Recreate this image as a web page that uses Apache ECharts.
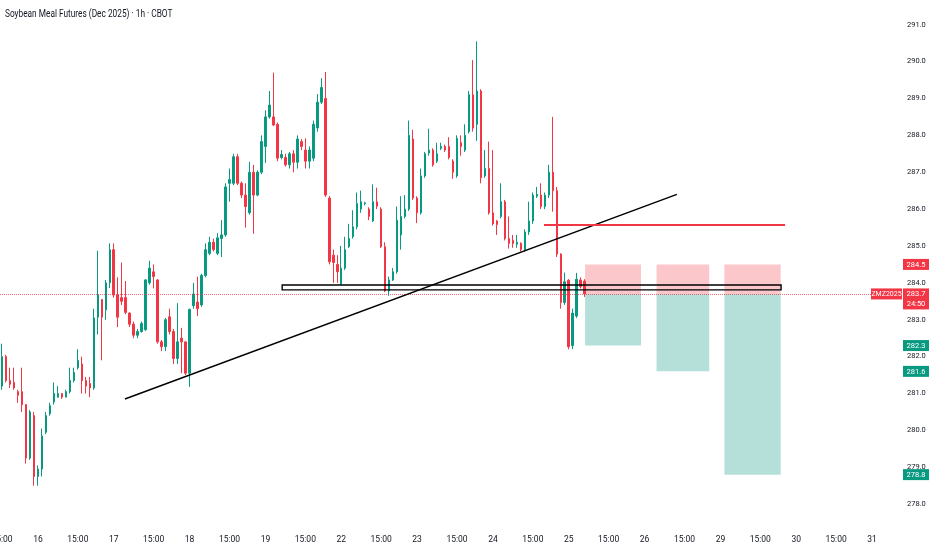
<!DOCTYPE html>
<html><head><meta charset="utf-8">
<script src="https://cdn.jsdelivr.net/npm/echarts@6/dist/echarts.min.js"></script>
<style>html,body{margin:0;padding:0;background:#fff}#c{width:932px;height:550px}</style>
</head><body><div id="c"></div>
<script>
// ---------- DATA ----------
const titleText = 'Soybean Meal Futures (Dec 2025) · 1h · CBOT';
const dayLabels = ['15','16','17','18','19','22','23','24','25','26','29','30','31'];
const barsPerDay = 19;
const firstBarOffset = 10;   // first visible bar is the 10th hour-slot of day 15
const midDayLabel = '15:00';
const midDayOffset = 10;
const totalSlots = 226;

// [open, close, low, high]
const day15 = [
 [281.2,282.0,281.1,282.35],[282.0,281.35,281.3,282.05],[281.35,281.25,281.15,281.7],
 [281.3,281.15,281.1,281.7],[281.05,280.95,280.75,281.1],[281.05,280.7,280.5,281.7],
 [280.7,279.25,279.1,280.7],[279.25,280.5,279.2,280.55],[280.4,278.75,278.5,280.5]
];
const day16 = [
 [278.75,278.95,278.5,279.05],[278.95,279.85,278.75,280.05],[279.95,280.4,279.9,280.5],
 [280.45,280.67,280.4,280.75],[280.77,281.0,280.7,281.3],[280.9,281.0,280.9,281.2],
 [281.0,280.9,280.85,281.0],[280.9,281.05,280.9,281.1],[281.05,281.35,281.0,281.7],
 [281.35,281.57,281.3,281.7],[281.7,281.9,281.65,282.2],[281.8,281.35,281.0,282.0],
 [281.35,281.2,281.0,281.45],[281.27,281.15,280.9,281.45],[281.15,283.05,281.1,283.3],
 [283.07,283.67,282.6,284.87],[283.55,283.07,281.9,283.55],[283.27,284.0,283.0,284.08],
 [284.0,284.9,283.86,285.07]
];
const day17 = [
 [284.9,283.67,283.6,285.07],[283.67,283.07,282.8,284.15],[283.6,283.5,283.4,284.55],
 [283.6,283.2,283.15,284.05],[283.18,282.88,282.8,283.2],[282.88,282.58,282.5,282.95],
 [282.58,282.68,282.5,282.75],[282.68,282.9,282.65,282.95],[282.73,284.08,282.7,284.1],
 [284.0,284.4,283.95,284.6],[284.3,284.17,283.85,284.5],[284.08,282.4,282.35,284.1],
 [282.4,282.27,282.15,282.45],[282.27,283.0,282.15,283.05],[283.08,282.68,282.6,283.3],
 [282.68,281.95,281.8,282.75],[281.95,282.4,281.8,283.45],[282.5,282.4,281.55,282.78],
 [282.4,281.55,281.5,282.4]
];
const day18 = [
 [281.55,283.28,281.18,283.3],[283.38,283.7,283.3,284.0],[283.48,283.3,283.1,284.17],
 [283.4,284.2,283.35,284.25],[284.2,284.9,284.15,285.07],[284.8,285.1,284.75,285.25],
 [285.1,284.9,284.85,285.2],[284.8,285.22,284.75,285.35],[285.2,285.3,284.7,285.7],
 [285.3,286.6,285.25,286.7],[286.7,286.8,286.2,287.1],[286.7,287.42,286.65,287.5],
 [287.42,286.7,286.65,287.5],[286.7,286.38,286.3,286.75],[286.38,286.07,285.5,286.7],
 [285.9,287.0,285.85,287.28],[287.0,286.38,285.33,287.2],[286.38,287.0,286.35,287.05],
 [287.0,287.83,286.95,288.0]
];
const day19 = [
 [287.7,288.5,287.25,288.68],[288.5,288.82,288.45,289.2],[288.5,288.28,288.25,289.7],
 [288.3,287.38,287.3,288.35],[287.4,287.48,287.35,287.6],[287.4,287.2,287.15,287.5],
 [287.2,287.5,287.1,287.55],[287.5,287.27,287.0,287.6],[287.27,287.9,287.1,288.0],
 [287.83,287.7,287.6,287.9],[287.6,287.3,287.1,287.92],[287.3,287.6,287.1,287.7],
 [287.38,288.3,287.3,288.4],[288.2,288.9,288.1,289.12],[288.9,289.3,288.85,289.55],
 [289.0,286.38,286.33,289.72],[286.3,284.57,284.5,286.35],[284.75,284.55,284.0,284.9],
 [284.5,284.3,284.0,284.75]
];
const day22 = [
 [283.97,284.4,283.95,285.0],[284.4,284.9,284.35,285.25],[284.98,285.2,284.95,285.6],
 [285.25,285.52,285.2,285.97],[285.52,286.15,285.45,286.45],[286.0,286.2,285.9,286.5],
 [286.15,286.17,286.1,286.2],[286.0,285.8,285.7,286.05],[285.68,286.2,285.65,286.67],
 [286.2,286.08,286.0,286.58],[286.0,284.98,284.95,286.05],[284.98,283.78,283.75,285.1],
 [283.78,284.08,283.65,284.17],[284.08,284.3,284.05,284.4],[284.3,285.7,284.25,286.07],
 [285.3,285.8,284.9,286.35],[285.8,286.0,285.75,286.38],[286.0,288.0,285.95,288.4],
 [287.9,286.3,286.25,288.15]
];
const day23 = [
 [286.3,285.9,285.62,286.35],[285.9,286.9,285.85,287.1],[286.9,287.5,286.85,287.55],
 [287.52,287.6,287.45,288.18],[287.6,287.2,287.15,287.65],[287.3,287.5,287.25,287.8],
 [287.65,287.7,287.6,287.8],[287.7,287.6,287.55,287.75],[287.7,287.4,287.35,287.95],
 [287.3,287.0,286.82,287.35],[286.9,287.92,286.85,288.0],[287.8,287.7,287.45,288.0],
 [287.6,288.0,287.55,288.3],[288.1,289.1,288.05,289.2],[289.1,288.2,288.1,290.04],
 [288.3,289.2,287.85,290.55],[289.2,286.85,286.7,289.25],[286.9,287.1,286.85,287.6],
 [287.1,285.9,285.85,287.83]
];
const day24 = [
 [285.9,285.6,285.55,287.6],[285.68,285.58,285.3,285.7],[285.8,286.2,285.75,286.7],
 [286.2,285.2,285.15,286.25],[285.2,285.07,284.93,285.8],[285.15,285.07,284.95,285.3],
 [285.05,285.1,284.95,285.3],[285.07,284.9,284.85,285.1],[284.9,285.38,284.85,285.45],
 [285.38,285.68,285.3,286.2],[285.68,286.38,285.6,286.45],[286.35,286.4,286.3,286.6],
 [286.38,286.07,286.0,286.7],[286.07,286.38,286.0,286.45],[286.38,287.0,286.3,287.2],
 [287.0,286.5,285.93,288.5],[286.5,284.78,284.7,286.6],[284.78,283.47,283.3,284.8],
 [283.47,284.03,283.4,284.28]
];
const day25 = [
 [284.07,282.27,282.2,284.1],[282.3,283.18,282.2,283.3],[283.1,284.1,283.05,284.27],
 [284.08,283.9,283.85,284.15],[284.05,283.7,283.62,284.1]
];

// drawings (x in bar slots, y in price)
const trendLine = [[31.3, 280.85], [169.6, 286.40]];
const resistanceLine = [[136.3, 285.57], [196.7, 285.57]];
const zoneRect = [70.7, 195.7, 283.94, 283.81];
// [from, to, stop, entry, target]
const positions = [
 [146.6, 160.6, 284.5, 283.7, 282.3],
 [164.5, 177.7, 284.5, 283.7, 281.6],
 [181.5, 195.6, 284.5, 283.7, 278.8]
];
const priceMin = 277.38, priceMax = 291.67;
const symbolName = 'ZMZ2025';
const countdown = '24:50';

// ---------- BUILD ----------
const UP = '#089981', DOWN = '#f23645';
const candles = [].concat(day15, day16, day17, day18, day19, day22, day23, day24, day25);
const lastPrice = candles[candles.length - 1][1];
const categories = [], tickLabels = [];
for (let i = 0; i < totalSlots; i++) {
  const k = i + firstBarOffset;
  const d = dayLabels[Math.floor(k / barsPerDay)];
  const o = k % barsPerDay;
  categories.push('s' + i);
  tickLabels.push(o === 0 ? d : (o === midDayOffset ? midDayLabel : ''));
}
const FONT = "Roboto, 'Liberation Sans', sans-serif";
const TXT = '#131722';

const chart = echarts.init(document.getElementById('c'), null, {renderer: 'canvas'});
chart.setOption({
  animation: false,
  backgroundColor: '#ffffff',
  grid: {left: 0, right: 30, top: 0, bottom: 23, containLabel: false, outerBoundsMode: 'none'},
  xAxis: [
    {type: 'category', data: categories, boundaryGap: true,
     axisLine: {show: false}, axisTick: {show: false}, splitLine: {show: false},
     axisLabel: {interval: 0, margin: 8, color: TXT, fontSize: 8.5, fontFamily: FONT,
       formatter: (v, idx) => tickLabels[idx]}},
    {type: 'value', min: 0, max: totalSlots, show: false}
  ],
  yAxis: [{
    type: 'value', position: 'right', min: priceMin, max: priceMax,
    minInterval: 1, maxInterval: 1, scale: true,
    axisLine: {show: false}, axisTick: {show: false}, splitLine: {show: false},
    axisLabel: {margin: 5, color: TXT, fontSize: 7.5, fontFamily: FONT,
      showMinLabel: false, showMaxLabel: false,
      formatter: v => (Math.abs(v - Math.round(v)) < 1e-6 ? v.toFixed(1) : '')}
  }],
  series: [
    {
      type: 'custom', xAxisIndex: 1, yAxisIndex: 0, z: 1, silent: true,
      data: positions,
      encode: {x: [0, 1], y: [2, 3, 4]},
      renderItem: function (params, api) {
        const x0 = api.value(0), x1 = api.value(1);
        const pStop = api.coord([x0, api.value(2)]);
        const pEntry = api.coord([x1, api.value(3)]);
        const pTarget = api.coord([x1, api.value(4)]);
        return {type: 'group', children: [
          {type: 'rect', shape: {x: pStop[0], y: pStop[1], width: pEntry[0] - pStop[0], height: pEntry[1] - pStop[1]},
           style: {fill: 'rgba(242,54,69,0.28)'}},
          {type: 'rect', shape: {x: pStop[0], y: pEntry[1], width: pEntry[0] - pStop[0], height: pTarget[1] - pEntry[1]},
           style: {fill: 'rgba(8,153,129,0.30)'}}
        ]};
      }
    },
    {
      type: 'candlestick', xAxisIndex: 0, yAxisIndex: 0, z: 3,
      data: candles, barWidth: 2,
      itemStyle: {color: UP, color0: DOWN, borderColor: UP, borderColor0: DOWN, borderWidth: 1},
      markLine: {
        silent: true, symbol: ['none', 'none'], label: {show: false},
        lineStyle: {color: DOWN, type: 'dotted', width: 1, opacity: 0.75},
        data: [{yAxis: lastPrice}]
      }
    },
    {
      type: 'line', xAxisIndex: 1, yAxisIndex: 0, z: 5, silent: true,
      data: trendLine, symbol: 'none', lineStyle: {color: '#000000', width: 1.5}
    },
    {
      type: 'line', xAxisIndex: 1, yAxisIndex: 0, z: 5, silent: true,
      data: resistanceLine, symbol: 'none', lineStyle: {color: '#f23645', width: 2}
    },
    {
      type: 'custom', xAxisIndex: 1, yAxisIndex: 0, z: 6, silent: true,
      data: [zoneRect], encode: {x: [0, 1], y: [2, 3]},
      renderItem: function (params, api) {
        const a = api.coord([api.value(0), api.value(2)]);
        const b = api.coord([api.value(1), api.value(3)]);
        return {type: 'rect', shape: {x: a[0], y: a[1], width: b[0] - a[0], height: b[1] - a[1]},
          style: {fill: 'none', stroke: '#000000', lineWidth: 1.4}};
      }
    }
  ]
});

// title (condensed like the reference) and price tags placed via the y scale
const tagFont = "7.5px " + FONT;
const tagList = [
  {price: positions[0][2], text: positions[0][2].toFixed(1), color: DOWN},
  {price: positions[0][4], text: positions[0][4].toFixed(1), color: UP},
  {price: positions[1][4], text: positions[1][4].toFixed(1), color: UP},
  {price: positions[2][4], text: positions[2][4].toFixed(1), color: UP}
];
const gridRight = 902;
const g = [{
  type: 'text', z: 101, x: 5, y: 14, scaleX: 0.83,
  style: {x: 0, y: 0, text: titleText, fill: TXT, font: '10px ' + FONT, align: 'left', verticalAlign: 'middle'}
}];
tagList.forEach(t => {
  const y = chart.convertToPixel({yAxisIndex: 0}, t.price);
  g.push({type: 'rect', z: 100, shape: {x: gridRight + 1, y: y - 5.5, width: 26, height: 11}, style: {fill: t.color}});
  g.push({type: 'text', z: 101, style: {x: gridRight + 14, y: y + 0.5, text: t.text, fill: '#fff', font: tagFont, align: 'center', verticalAlign: 'middle'}});
});
const yl = chart.convertToPixel({yAxisIndex: 0}, lastPrice);
g.push({type: 'rect', z: 100, shape: {x: gridRight + 1, y: yl - 5.5, width: 26, height: 21}, style: {fill: DOWN}});
g.push({type: 'text', z: 101, style: {x: gridRight + 14, y: yl + 0.5, text: lastPrice.toFixed(1), fill: '#fff', font: tagFont, align: 'center', verticalAlign: 'middle'}});
g.push({type: 'text', z: 101, style: {x: gridRight + 14, y: yl + 10, text: countdown, fill: '#fff', font: tagFont, align: 'center', verticalAlign: 'middle'}});
g.push({type: 'rect', z: 100, shape: {x: gridRight - 31, y: yl - 5.5, width: 31, height: 11}, style: {fill: DOWN}});
g.push({type: 'text', z: 101, style: {x: gridRight - 15.5, y: yl + 0.5, text: symbolName, fill: '#fff', font: "7px " + FONT, align: 'center', verticalAlign: 'middle'}});
chart.setOption({graphic: g});
</script>
</body></html>
